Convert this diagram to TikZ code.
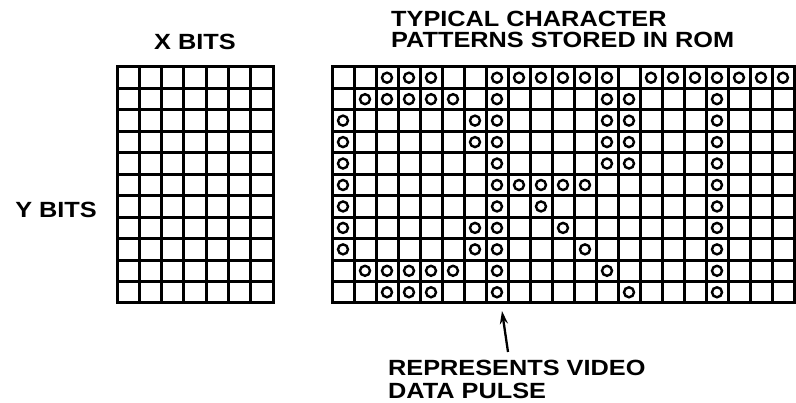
\documentclass[tikz,border=0pt]{standalone}
\usepackage{fontspec}
\setmainfont{Liberation Sans}[FakeStretch=1.15]
\usetikzlibrary{arrows.meta}
\begin{document}
\begin{tikzpicture}[x=1pt,y=-1pt,
  gridline/.style={line width=3pt,line cap=rect},
  pulse/.style={circle,draw,line width=2.4pt,minimum size=10pt,inner sep=0pt},
  lab/.style={font=\fontsize{22}{20.5}\selectfont\bfseries,inner sep=0pt,align=left},
  ptr/.style={line width=2.3pt,-{Stealth[length=13pt,width=8pt]}}]
\useasboundingbox (0,0) rectangle (796,403);
% left grid (X bits)
\foreach \i in {0,...,7}{\draw[gridline] ({117+\i*22.3},67) -- ({117+\i*22.3},303);}
\foreach \j in {0,...,11}{\draw[gridline] (117,{67+\j*21.4545}) -- (273,{67+\j*21.4545});}
% right grid (character patterns)
\foreach \i in {0,...,21}{\draw[gridline] ({332+\i*22},67) -- ({332+\i*22},303);}
\foreach \j in {0,...,11}{\draw[gridline] (332,{67+\j*21.4545}) -- (794,{67+\j*21.4545});}
% pulses
\foreach \r/\cols in {1/{3,4,5,8,9,10,11,12,13,15,16,17,18,19,20,21},
  2/{2,3,4,5,6,8,13,14,18}, 3/{1,7,8,13,14,18}, 4/{1,7,8,13,14,18},
  5/{1,8,13,14,18}, 6/{1,8,9,10,11,12,18}, 7/{1,8,10,18},
  8/{1,7,8,11,18}, 9/{1,7,8,12,18}, 10/{2,3,4,5,6,8,13,18}, 11/{3,4,5,8,14,18}}{
  \foreach \c in \cols {\node[pulse] (p-\r-\c) at ({332+(\c-0.5)*22},{67+(\r-0.5)*21.4545}) {};}
}
% labels
\node[lab,anchor=north] (xbits) at (195,34) {X BITS};
\node[lab,anchor=east] (ybits) at (97,210) {Y BITS};
\node[lab,anchor=north west] (title) at (391,11) {TYPICAL CHARACTER\\PATTERNS STORED IN ROM};
\node[lab,anchor=north west,font=\fontsize{22}{22.5}\selectfont\bfseries] (note) at (388,360) {REPRESENTS VIDEO\\DATA PULSE};
\coordinate (tail) at (508,352);
\coordinate (tip) at (502,311);
\draw[ptr] (tail) -- (tip);
\end{tikzpicture}
\end{document}
